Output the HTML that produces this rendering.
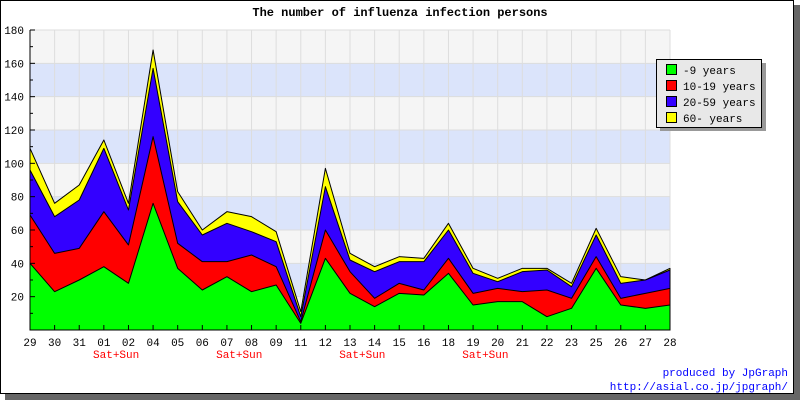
<!DOCTYPE html>
<html><head><meta charset="utf-8"><style>
body{margin:0;background:#fff}
svg{display:block;font-family:"Liberation Mono","DejaVu Sans Mono",monospace}
</style></head><body>
<svg id="chart" width="800" height="400" viewBox="0 0 800 400" xmlns="http://www.w3.org/2000/svg">
<rect x="5" y="5" width="795" height="395" fill="#666"/>
<rect x="0.5" y="0.5" width="793" height="393" fill="#fff" stroke="#000"/>
<text x="400" y="16" text-anchor="middle" font-size="12" font-weight="bold">The number of influenza infection persons</text>
<g id="bands"></g>
<g id="grid"></g>
<g id="areas"></g>
<g id="axes"></g>
<g>
<rect x="660" y="63" width="106" height="68" fill="#999"/>
<rect x="656.5" y="59.5" width="105" height="68" fill="#e8e8e8" stroke="#000"/>
<g id="legend-items"></g>
</g>
<text x="788" y="376" text-anchor="end" font-size="11" fill="#00f">produced by JpGraph</text>
<text x="788" y="390" text-anchor="end" font-size="11" fill="#00f">http://asial.co.jp/jpgraph/</text>
</svg>
<script>
const categories=["29","30","31","01","02","04","05","06","07","08","09","11","12","13","14","15","16","18","19","20","21","22","23","25","26","27","28"];
const kids=[40,23,30,38,28,76,37,24,32,23,27,4,43,22,14,22,21,34,15,17,17,8,13,37,15,13,15];
const teens=[29,23,19,33,23,40,15,17,9,22,11,1,17,13,5,6,3,9,7,8,6,16,6,7,4,9,10];
const adults=[27,22,29,38,21,41,25,16,23,14,15,3,26,7,16,13,17,17,12,4,12,12,7,13,9,8,11];
const seniors=[13,8,9,5,4,11,6,3,7,9,6,3,11,4,3,3,2,4,3,2,2,1,2,4,4,0,1];
const yTicks=[20,40,60,80,100,120,140,160,180];
const weekendLabels=[["01","02"],["07","08"],["13","14"],["19","20"]];
const seriesNames=["-9 years","10-19 years","20-59 years","60- years"];
const colors=["#00ff00","#ff0000","#3300ff","#ffff00"];
const NS="http://www.w3.org/2000/svg";
const L=30,R=670,T=30,B=330,YMAX=180;
const xs=i=>L+i*(R-L)/(categories.length-1);
const ys=v=>B-v*(B-T)/YMAX;
function mk(tag,attrs,parent){const e=document.createElementNS(NS,tag);for(const k in attrs)e.setAttribute(k,attrs[k]);parent.appendChild(e);return e;}
const bands=document.getElementById('bands');
for(let v=0;v<YMAX;v+=20){const r=mk('rect',{x:L,y:ys(v+20),width:R-L,height:ys(v)-ys(v+20),fill:(v/20)%2===1?'#dbe4fb':'#f5f5f5'},bands);

}
const grid=document.getElementById('grid');
categories.forEach((c,i)=>{const l=mk('line',{x1:xs(i),x2:xs(i),y1:T,y2:B,stroke:'#ddd'},grid);

});
yTicks.forEach(v=>{const l=mk('line',{x1:L,x2:R,y1:ys(v),y2:ys(v),stroke:'#ddd'},grid);

});
const series=[kids,teens,adults,seniors];
const cum=[];let base=categories.map(()=>0);
series.forEach(s=>{const top=base.map((b,i)=>b+s[i]);cum.push({base:base,top:top});base=top;});
const areas=document.getElementById('areas');
for(let k=cum.length-1;k>=0;k--){
 const top=cum[k].top;
 let d='M'+xs(0)+','+ys(0);
 top.forEach((v,i)=>{d+=' L'+xs(i)+','+ys(v);});
 d+=' L'+xs(top.length-1)+','+ys(0)+' Z';
 const p=mk('path',{d:d,fill:colors[k],stroke:'#000','stroke-width':1,'stroke-linejoin':'round'},areas);
 
 
}
const axes=document.getElementById('axes');
mk('line',{x1:L,x2:L,y1:T,y2:B,stroke:'#000'},axes);
mk('line',{x1:L,x2:R,y1:B,y2:B,stroke:'#000'},axes);
for(let v=10;v<=YMAX;v+=10){mk('line',{x1:L,x2:L+(v%20===0?5:3),y1:ys(v),y2:ys(v),stroke:'#000'},axes);}
yTicks.forEach(v=>{const t=mk('text',{x:L-6,y:ys(v)+4,'text-anchor':'end','font-size':11},axes);t.textContent=v;

});
categories.forEach((c,i)=>{mk('line',{x1:xs(i),x2:xs(i),y1:B,y2:B-5,stroke:'#000'},axes);
const t=mk('text',{x:xs(i),y:B+16,'text-anchor':'middle','font-size':11},axes);t.textContent=c;

});
weekendLabels.forEach(w=>{const a=categories.indexOf(w[0]),b=categories.indexOf(w[1]);
const t=mk('text',{x:(xs(a)+xs(b))/2,y:B+28,'text-anchor':'middle','font-size':11,fill:'#f00'},axes);t.textContent='Sat+Sun';

});
const li=document.getElementById('legend-items');
seriesNames.forEach((n,k)=>{const y=64+k*16;
const g=mk('g',{},li);


mk('rect',{x:666.5,y:y+0.5,width:10,height:10,fill:colors[k],stroke:'#000'},g);
const t=mk('text',{x:683,y:y+10,'font-size':11},g);t.textContent=n;});
</script>
</body></html>
